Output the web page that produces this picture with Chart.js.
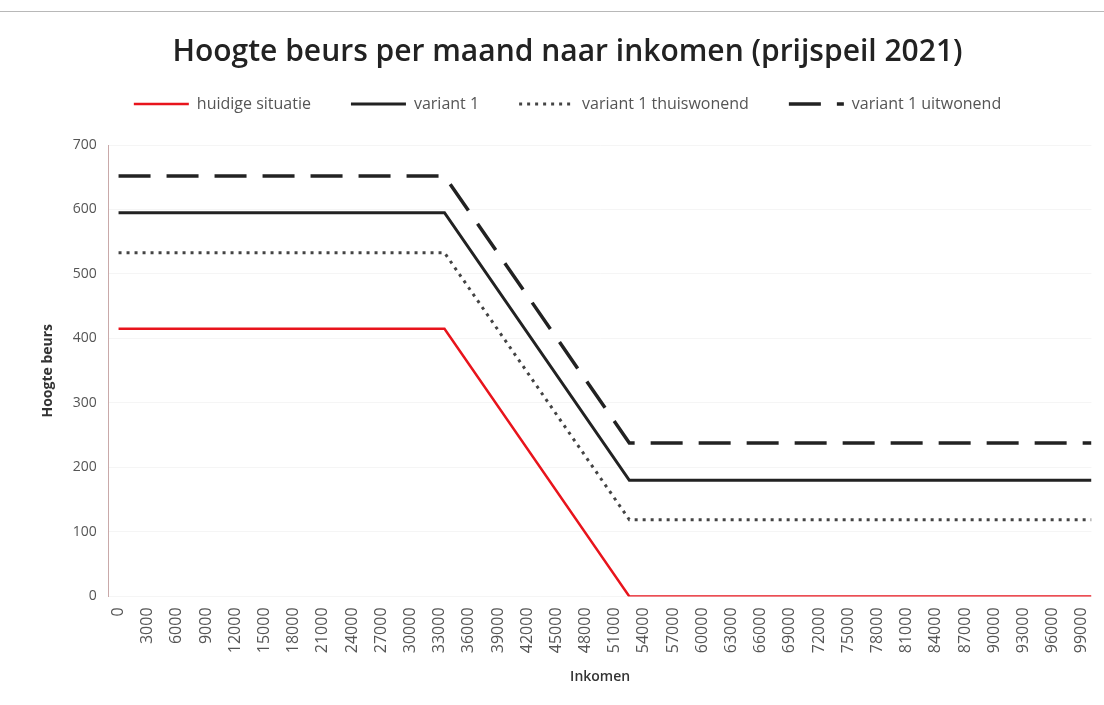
<!DOCTYPE html>
<html>
<head>
<meta charset="utf-8">
<script src="https://cdn.jsdelivr.net/npm/chart.js@4/dist/chart.umd.min.js"></script>
<style>
  html, body { margin: 0; padding: 0; background: #fff; }
  #wrap { width: 1104px; height: 705px; position: relative; }
  #topline { position: absolute; left: 0; top: 11px; width: 1104px; height: 1px; background: #b8b8b8; }
</style>
</head>
<body>
<div id="wrap">
  <div id="topline"></div>
  <canvas id="chart" width="1104" height="705"></canvas>
</div>
<script>
// inkomen op de knikpunten (x) en hoogte beurs per variant (y)
const inkomen = [0, 33500, 52500, 100000];
const huidig = [415, 415, 0, 0];
const variant1 = [595, 595, 180, 180];
const thuiswonend = [533, 533, 119, 119];
const uitwonend = [652, 652, 238, 238];

// labels op de x-as, om de 3000
const xTicks = [];
for (let v = 0; v <= 99000; v += 3000) xTicks.push(v);

const pts = ys => inkomen.map((x, i) => ({ x: x, y: ys[i] }));

// wat extra ruimte onder de legenda
const legendRuimte = {
    id: 'legendRuimte',
    beforeInit(chart) {
        const fit = chart.legend.fit;
        chart.legend.fit = function () {
            fit.bind(chart.legend)();
            this.height += 23;
        };
    }
};

let ctx = document.getElementById('chart').getContext('2d');
let beursChart = new Chart(ctx, {
    type: 'line',
    data: {
        datasets: [{
            label: 'huidige situatie',
            data: pts(huidig),
            borderColor: '#e8141c',
            backgroundColor: '#e8141c',
            borderWidth: 2.5
        }, {
            label: 'variant 1',
            data: pts(variant1),
            borderColor: '#222222',
            backgroundColor: '#222222',
            borderWidth: 3
        }, {
            label: 'variant 1 thuiswonend',
            data: pts(thuiswonend),
            borderColor: '#444444',
            backgroundColor: '#444444',
            borderWidth: 3,
            borderDash: [3, 5]
        }, {
            label: 'variant 1 uitwonend',
            data: pts(uitwonend),
            borderColor: '#222222',
            backgroundColor: '#222222',
            borderWidth: 3.5,
            borderDash: [32, 16]
        }]
    },
    plugins: [legendRuimte],
    options: {
        responsive: false,
        animation: false,
        layout: { padding: { left: 36, right: 5, top: 20, bottom: 20 } },
        elements: { point: { radius: 0 }, line: { tension: 0 } },
        plugins: {
            title: {
                display: true,
                text: 'Hoogte beurs per maand naar inkomen (prijspeil 2021)',
                color: '#222',
                font: { family: 'Open Sans', size: 30, weight: '600' },
                padding: { top: 14, bottom: -14 }
            },
            legend: {
                labels: {
                    usePointStyle: true,
                    pointStyle: 'line',
                    pointStyleWidth: 55,
                    color: '#555',
                    font: { family: 'Open Sans', size: 16 },
                    padding: 40,
                    generateLabels: chart => Chart.defaults.plugins.legend.labels.generateLabels(chart).map(item => {
                        const ds = chart.data.datasets[item.datasetIndex];
                        item.lineDash = ds.borderDash || [];
                        item.lineWidth = ds.borderWidth;
                        item.strokeStyle = ds.borderColor;
                        return item;
                    })
                }
            },
            tooltip: { enabled: false }
        },
        scales: {
            x: {
                type: 'linear',
                min: -1000,
                max: 100000,
                afterBuildTicks: scale => { scale.ticks = xTicks.map(v => ({ value: v })); },
                ticks: {
                    autoSkip: false,
                    minRotation: 90,
                    maxRotation: 90,
                    color: '#555',
                    font: { family: 'Open Sans', size: 16 },
                    callback: v => String(v)
                },
                grid: { display: false },
                border: { display: false },
                title: {
                    display: true,
                    text: 'Inkomen',
                    color: '#333',
                    font: { family: 'Open Sans', size: 14, weight: '600' },
                    padding: { top: 12, bottom: 0 }
                }
            },
            y: {
                min: 0,
                max: 700,
                ticks: {
                    stepSize: 100,
                    color: '#555',
                    padding: 12,
                    font: { family: 'Open Sans', size: 14 }
                },
                grid: { color: 'rgba(0,0,0,0.04)', drawTicks: false },
                border: { display: true, color: '#c9a9a9' },
                title: {
                    display: true,
                    text: 'Hoogte beurs',
                    color: '#333',
                    font: { family: 'Open Sans', size: 14, weight: 'bold' },
                    padding: { bottom: 4 }
                }
            }
        }
    }
});
</script>
</body>
</html>
